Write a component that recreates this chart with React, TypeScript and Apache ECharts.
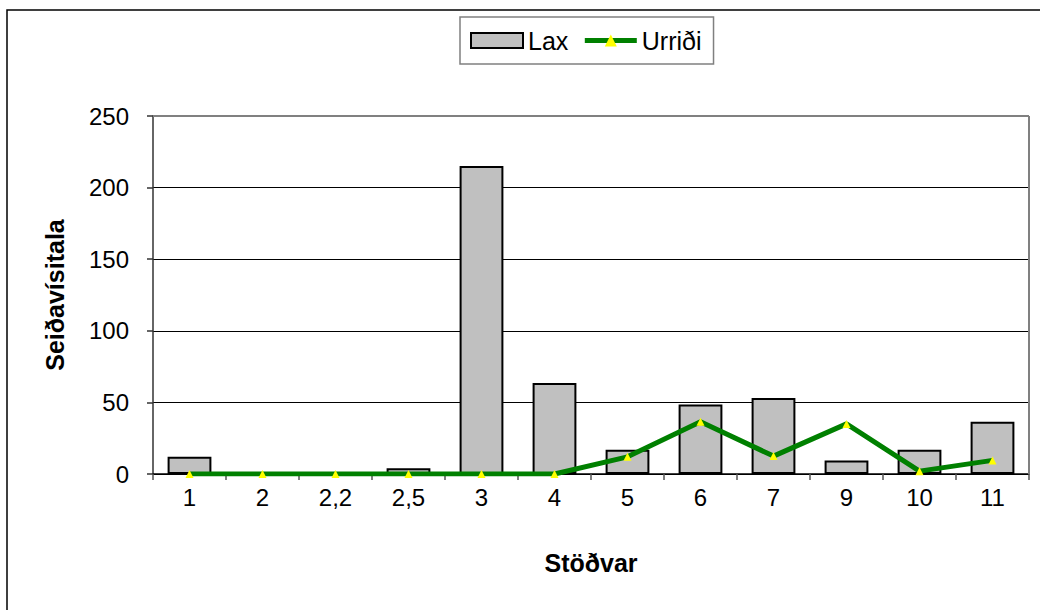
import React, { useEffect, useRef } from "react";
import * as echarts from "echarts";

const categories = ["1", "2", "2,2", "2,5", "3", "4", "5", "6", "7", "9", "10", "11"];
const laxValues = [12, 0, 0, 4, 215, 63.5, 17, 48.5, 53, 9.5, 17, 36.5];
const urridiValues = [0, 0, 0, 0, 0, 0, 12, 36.5, 12.5, 35, 2, 9.5];
const yTicks = { min: 0, max: 250, interval: 50 };

export default function App() {
  const ref = useRef<HTMLDivElement>(null);
  useEffect(() => {
    if (!ref.current) return;
    const chart = echarts.init(ref.current, undefined, { renderer: "svg" });
    const font = "Liberation Sans, Arial, sans-serif";
    chart.setOption({
      animation: false,
      backgroundColor: "#ffffff",
      textStyle: { fontFamily: font },
      graphic: [
        {
          type: "rect",
          shape: { x: 7, y: 10, width: 1100, height: 700 },
          style: { fill: "none", stroke: "#000", lineWidth: 1.5 },
          silent: true,
        },
        {
          type: "line",
          shape: { x1: 153, y1: 116, x2: 1029, y2: 116 },
          style: { stroke: "#808080", lineWidth: 2 },
          silent: true,
          z: 5,
        },
        {
          type: "line",
          shape: { x1: 1029, y1: 116, x2: 1029, y2: 474 },
          style: { stroke: "#808080", lineWidth: 2 },
          silent: true,
          z: 5,
        },
      ],
      legend: {
        left: 460,
        top: 17,
        padding: [11, 12, 11, 10],
        borderColor: "#808080",
        borderWidth: 1.5,
        itemWidth: 52,
        itemHeight: 15,
        itemGap: 14,
        textStyle: { fontSize: 25, color: "#000", fontFamily: font },
        data: [
          { name: "Lax", icon: "rect" },
          { name: "Urriði", lineStyle: { width: 5, color: "#008000" } },
        ],
      },
      grid: { left: 153, right: 11, top: 116, bottom: 136 },
      xAxis: {
        type: "category",
        data: categories,
        boundaryGap: true,
        name: "Stöðvar",
        nameLocation: "middle",
        nameGap: 76,
        nameTextStyle: { fontSize: 25, fontWeight: "bold", color: "#000", fontFamily: font },
        axisLine: { lineStyle: { color: "#000", width: 1.5 } },
        axisTick: { show: true, alignWithLabel: false, length: 6, lineStyle: { color: "#555", width: 1.5 } },
        axisLabel: { fontSize: 24, color: "#000", margin: 11, fontFamily: font },
        splitLine: { show: false },
      },
      yAxis: {
        type: "value",
        min: yTicks.min,
        max: yTicks.max,
        interval: yTicks.interval,
        name: "Seiðavísitala",
        nameLocation: "middle",
        nameGap: 86,
        nameRotate: 90,
        nameTextStyle: { fontSize: 25, fontWeight: "bold", color: "#000", fontFamily: font },
        axisLine: { show: true, lineStyle: { color: "#333", width: 1.5 } },
        axisTick: { show: true, length: 6, lineStyle: { color: "#333", width: 1.5 } },
        axisLabel: { fontSize: 24, color: "#000", margin: 24, fontFamily: font },
        splitLine: { show: true, lineStyle: { color: "#000", width: 1 } },
      },
      series: [
        {
          name: "Lax",
          type: "bar",
          data: laxValues,
          barWidth: "60%",
          itemStyle: { color: "#c0c0c0", borderColor: "#000", borderWidth: 2 },
          z: 2,
        },
        {
          name: "Urriði",
          type: "line",
          data: urridiValues,
          symbol: "triangle",
          symbolSize: 8,
          showSymbol: true,
          itemStyle: { color: "#ffff00", borderWidth: 0 },
          lineStyle: { color: "#008000", width: 5 },
          z: 3,
        },
      ],
    });
    return () => chart.dispose();
  }, []);
  return (
    <div
      ref={ref}
      style={{ position: "fixed", left: 0, top: 0, width: 1040, height: 610 }}
    />
  );
}
